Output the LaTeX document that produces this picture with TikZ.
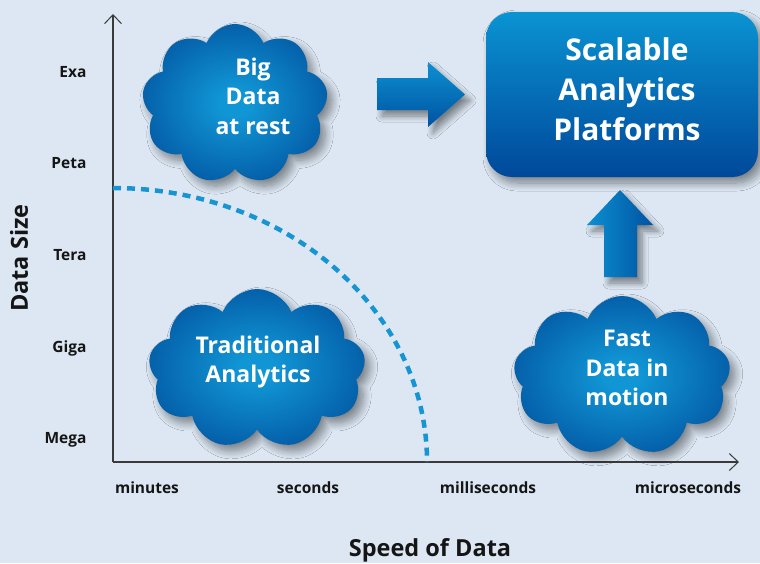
\documentclass[tikz,border=0pt]{standalone}
\usepackage{fontspec}
\setmainfont{Open Sans}
\usetikzlibrary{shapes.symbols,arrows.meta,shadows.blur}

\definecolor{bg}{HTML}{DCE7F3}
\definecolor{axiscol}{HTML}{3A3A3A}
\definecolor{labelcol}{HTML}{151515}
\definecolor{dashcol}{HTML}{1795D2}
\definecolor{cloudin}{HTML}{1196D5}
\definecolor{cloudout}{HTML}{004E9B}
\definecolor{boxtop}{HTML}{0A93D2}
\definecolor{boxbot}{HTML}{00489A}
\definecolor{arrlight}{HTML}{0C90D1}
\definecolor{arrdark}{HTML}{0052A2}

\pgfdeclareradialshading{cloudshade}{\pgfpoint{0bp}{0bp}}{color(0bp)=(cloudin); color(4bp)=(cloudin); color(32bp)=(cloudout); color(60bp)=(cloudout)}

\tikzset{
  axisline/.style={draw=axiscol, line width=1.4pt, -{Straight Barb[length=9pt,width=17pt,line width=1pt]}},
  dashcurve/.style={draw=dashcol, line width=4.5pt, dash pattern=on 8pt off 6pt},
  cloudnode/.style={cloud, cloud puffs=9, cloud puff arc=135, cloud ignores aspect, shading=cloudshade, draw=none,
    blur shadow={shadow xshift=5pt, shadow yshift=-6pt, shadow blur steps=10, shadow blur radius=8pt, shadow opacity=45}},
  cloudtext/.style={text=white, font=\fontsize{23}{29.5}\selectfont\bfseries, align=center},
  boxnode/.style={rectangle, rounded corners=26pt, top color=boxtop, bottom color=boxbot, draw=none,
    blur shadow={shadow xshift=5pt, shadow yshift=-6pt, shadow blur steps=10, shadow blur radius=8pt, shadow opacity=45}},
  boxtext/.style={text=white, font=\fontsize{30}{40}\selectfont\bfseries, align=center},
  blockarrow/.style={draw=none, blur shadow={shadow xshift=5pt, shadow yshift=-6pt, shadow blur steps=8, shadow blur radius=6pt, shadow opacity=45}},
  ylab/.style={font=\fontsize{15.5}{18}\selectfont\bfseries, text=labelcol, anchor=east},
  xlab/.style={font=\fontsize{15.5}{18}\selectfont\bfseries, text=labelcol},
  axtitle/.style={font=\fontsize{23.5}{26}\selectfont\bfseries, text=labelcol}
}

\begin{document}
\begin{tikzpicture}[x=1pt,y=-1pt]
\fill[bg] (0,0) rectangle (760,563);
\useasboundingbox (0,0) rectangle (760,563);

% axes
\coordinate (O) at (113,462);
\coordinate (Ytop) at (113,14);
\coordinate (Xend) at (739,462);
\draw[axisline] (O) -- (Ytop);
\draw[axisline] (O) -- (Xend);

% dashed boundary
\coordinate (dstart) at (113,188);
\draw[dashcurve] (dstart) arc[start angle=-90, end angle=0, x radius=314, y radius=274];

% y labels
\node[ylab] (exa) at (90,72) {Exa};
\node[ylab] (peta) at (90,163) {Peta};
\node[ylab] (tera) at (90,255) {Tera};
\node[ylab] (giga) at (90,348) {Giga};
\node[ylab] (mega) at (90,440) {Mega};
\node[axtitle, rotate=90] (ytitle) at (19,258) {Data Size};

% x labels
\node[xlab] (minutes) at (147,488) {minutes};
\node[xlab] (seconds) at (308,488) {seconds};
\node[xlab] (millis) at (488,488) {milliseconds};
\node[xlab] (micros) at (688,488) {microseconds};
\node[axtitle] (xtitle) at (430,550) {Speed of Data};

% clouds
\node[cloudnode, minimum width=186, minimum height=160] (bigcloud) at (235,104) {};
\node[cloudtext] (bigtext) at (253,96) {Big\\Data\\at rest};

\node[cloudnode, minimum width=217, minimum height=160] (tradcloud) at (257,369) {};
\node[cloudtext] (tradtext) at (258,362) {Traditional\\Analytics};

\node[cloudnode, minimum width=217, minimum height=160] (fastcloud) at (622,376) {};
\node[cloudtext] (fasttext) at (627,368) {Fast\\Data in\\motion};

% platform box
\node[boxnode, minimum width=272, minimum height=165] (sap) at (622,94.5) {};
\node[boxtext] (saptext) at (627,89) {Scalable\\Analytics\\Platforms};

% block arrows
\path[blockarrow, top color=arrlight, bottom color=arrdark]
  (377,78) -- (428,78) -- (428,62) -- (465,94.5) -- (428,127) -- (428,110) -- (377,110) -- cycle;
\path[blockarrow, left color=arrlight, right color=arrdark]
  (604,277) -- (604,225) -- (587,225) -- (620,190) -- (653,225) -- (637,225) -- (637,277) -- cycle;
\end{tikzpicture}
\end{document}
